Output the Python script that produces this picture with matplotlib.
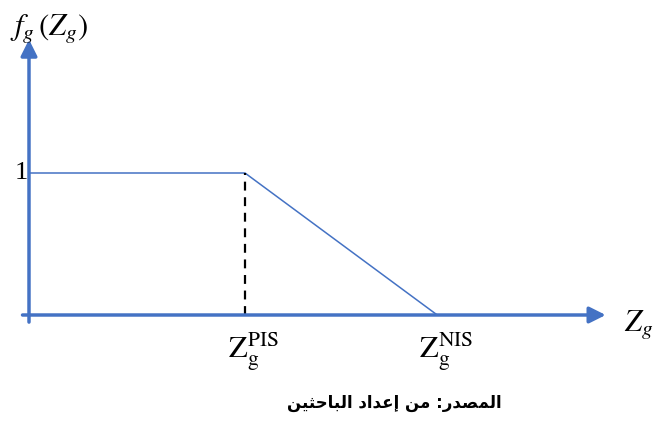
import matplotlib
matplotlib.use("Agg")
import matplotlib.pyplot as plt

# membership function f_g(Z_g): 1 up to Z_PIS, falls linearly to 0 at Z_NIS
z_pis = 1.0
z_nis = 1.89
z_points = [0.0, z_pis, z_nis]
f_points = [1.0, 1.0, 0.0]

x_labels = [r"$\mathrm{Z}_{\mathrm{g}}^{\mathrm{PIS}}$", r"$\mathrm{Z}_{\mathrm{g}}^{\mathrm{NIS}}$"]
x_label_pos = [z_pis, z_nis]

# "المصدر: من إعداد الباحثين" in shaped presentation forms, visual order
source_logical = ["\uFE8D\uFEDF\uFEE4\uFEBC\uFEAA\uFEAD", ":", " ",
                  "\uFEE3\uFEE6", " ",
                  "\uFE87\uFECB\uFEAA\uFE8D\uFEA9", " ",
                  "\uFE8D\uFEDF\uFE92\uFE8E\uFEA3\uFE9C\uFEF4\uFEE6"]
source_text = "".join(source_logical)[::-1]

blue = "#4472C4"
plt.rcParams["mathtext.fontset"] = "stix"
plt.rcParams["font.family"] = ["Liberation Serif", "DejaVu Sans"]

fig = plt.figure(figsize=(6.55, 4.21), dpi=100)
ax = fig.add_axes([0, 0, 1, 1])
ax.set_xlim(-29 / 216, 626 / 216)
ax.set_ylim(-106 / 142, 315 / 142)
ax.axis("off")

# axes arrows
ax.annotate("", xy=(2.67, 0), xytext=(-0.03, 0),
            arrowprops=dict(arrowstyle="-|>,head_length=0.7,head_width=0.35",
                            color=blue, lw=2.5, shrinkA=0, shrinkB=0, mutation_scale=14))
ax.annotate("", xy=(0, 1.94), xytext=(0, -0.05),
            arrowprops=dict(arrowstyle="-|>,head_length=0.7,head_width=0.35",
                            color=blue, lw=2.5, shrinkA=0, shrinkB=0, mutation_scale=14))

# function and dashed guide
ax.plot(z_points, f_points, color=blue, lw=1.1, solid_capstyle="butt")
ax.plot([z_pis, z_pis], [0, 1], color="black", lw=1.6, ls=(0, (4, 3)))

ax.text(-0.005, 1.0, "1", ha="right", va="center", fontsize=19)
ax.text(-0.09, 2.02, r"$f_g\,(Z_g)$", ha="left", va="center", fontsize=22)
ax.text(2.755, -0.07, r"$Z_g$", ha="left", va="center", fontsize=22)
for pos, lab in zip(x_label_pos, x_labels):
    ax.text(pos + 0.04, -0.26, lab, ha="center", va="center", fontsize=22)

ax.text(1.69, -0.62, source_text, ha="center", va="center", fontsize=12,
        fontweight="bold", family=["DejaVu Sans"])

fig.savefig("out.png", dpi=100)
